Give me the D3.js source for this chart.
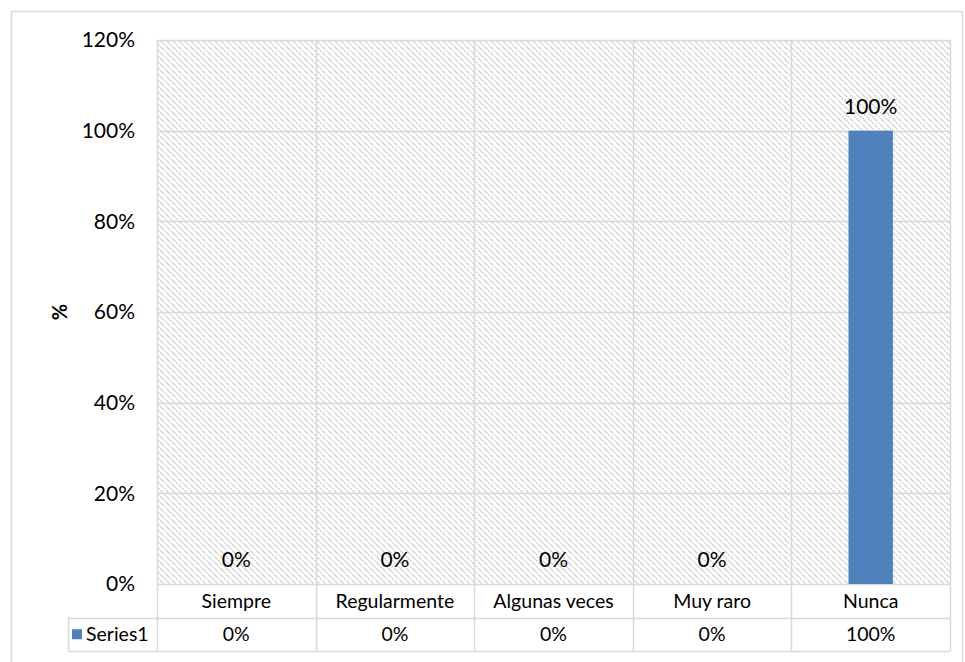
<!DOCTYPE html>
<html>
<head>
<meta charset="utf-8">
<script src="https://cdn.jsdelivr.net/npm/d3@7"></script>
<style>
  body { margin: 0; background: #fff; }
  text { font-family: Lato, "Open Sans", sans-serif; fill: #000; }
</style>
</head>
<body>
<svg id="chart" width="965" height="662"></svg>
<script>
// chart data
const categories = ["Siempre", "Regularmente", "Algunas veces", "Muy raro", "Nunca"];
const values = [0, 0, 0, 0, 1];
const seriesName = "Series1";
const yTicks = [0, 0.2, 0.4, 0.6, 0.8, 1.0, 1.2];

const svg = d3.select("#chart");
const plot = { left: 157, right: 950, top: 40, bottom: 584 };
const rowH = 33.5;
const tableLeft = 68;
const grid = "#d9d9d9";
const fmt = d3.format(".0%");

// outer border
svg.append("rect")
  .attr("x", 11.5).attr("y", 11.5)
  .attr("width", 951).attr("height", 660)
  .attr("fill", "none")
  .attr("stroke", grid)
  .attr("stroke-width", 1.5);

// hatch pattern for plot background
const defs = svg.append("defs");
const pat = defs.append("pattern")
  .attr("id", "hatch")
  .attr("patternUnits", "userSpaceOnUse")
  .attr("width", 6).attr("height", 6);
pat.append("rect").attr("width", 6).attr("height", 6).attr("fill", "#fff");
pat.append("path")
  .attr("d", "M0,0L6,6M-1,5L1,7M5,-1L7,1")
  .attr("stroke", "#d0d0d0")
  .attr("stroke-width", 1.4)
  .attr("stroke-dasharray", "2,1");

const x = d3.scaleBand()
  .domain(categories)
  .range([plot.left, plot.right])
  .padding(0);

const y = d3.scaleLinear()
  .domain([0, 1.2])
  .range([plot.bottom, plot.top]);

svg.append("rect")
  .attr("x", plot.left).attr("y", plot.top)
  .attr("width", plot.right - plot.left)
  .attr("height", plot.bottom - plot.top)
  .attr("fill", "url(#hatch)");

// horizontal gridlines
svg.append("g")
  .selectAll("line")
  .data(yTicks)
  .join("line")
  .attr("x1", plot.left).attr("x2", plot.right)
  .attr("y1", d => Math.round(y(d)) + 0.5)
  .attr("y2", d => Math.round(y(d)) + 0.5)
  .attr("stroke", grid)
  .attr("stroke-width", 1.5);

// vertical lines (category boundaries, running through the data table)
const tableBottom = plot.bottom + rowH * 2;
const bounds = categories.map(c => x(c)).concat([plot.right]);
svg.append("g")
  .selectAll("line")
  .data(bounds)
  .join("line")
  .attr("x1", d => Math.round(d) + 0.5).attr("x2", d => Math.round(d) + 0.5)
  .attr("y1", plot.top).attr("y2", tableBottom)
  .attr("stroke", grid)
  .attr("stroke-width", 1.5);

// table row lines
svg.append("g")
  .selectAll("line")
  .data([plot.bottom + rowH, tableBottom])
  .join("line")
  .attr("x1", tableLeft).attr("x2", plot.right)
  .attr("y1", d => Math.round(d) + 0.5).attr("y2", d => Math.round(d) + 0.5)
  .attr("stroke", grid)
  .attr("stroke-width", 1.5);
svg.append("line")
  .attr("x1", tableLeft + 0.5).attr("x2", tableLeft + 0.5)
  .attr("y1", plot.bottom + rowH).attr("y2", tableBottom)
  .attr("stroke", grid)
  .attr("stroke-width", 1.5);

// y axis labels
svg.append("g")
  .selectAll("text")
  .data(yTicks)
  .join("text")
  .attr("x", 135)
  .attr("y", d => y(d))
  .attr("dy", "0.35em")
  .attr("text-anchor", "end")
  .attr("font-size", 21)
  .text(d => fmt(d));

// y axis title
svg.append("text")
  .attr("transform", `translate(67, ${(plot.top + plot.bottom) / 2}) rotate(-90)`)
  .attr("text-anchor", "middle")
  .attr("font-size", 20)
  .attr("font-weight", "bold")
  .text("%");

// bars
const barW = x.bandwidth() * 0.28;
svg.append("g")
  .selectAll("rect")
  .data(values)
  .join("rect")
  .attr("x", (d, i) => x(categories[i]) + (x.bandwidth() - barW) / 2)
  .attr("y", d => y(d))
  .attr("width", barW)
  .attr("height", d => y(0) - y(d))
  .attr("fill", "#4f81bd");

// data labels
svg.append("g")
  .selectAll("text")
  .data(values)
  .join("text")
  .attr("x", (d, i) => x(categories[i]) + x.bandwidth() / 2)
  .attr("y", d => y(d) - 17)
  .attr("text-anchor", "middle")
  .attr("font-size", 21)
  .text(d => fmt(d));

// data table: categories row
svg.append("g")
  .selectAll("text")
  .data(categories)
  .join("text")
  .attr("x", d => x(d) + x.bandwidth() / 2)
  .attr("y", plot.bottom + rowH / 2)
  .attr("dy", "0.35em")
  .attr("text-anchor", "middle")
  .attr("font-size", 19.5)
  .text(d => d);

// data table: series row
const rowY = plot.bottom + rowH * 1.5;
svg.append("g")
  .selectAll("text")
  .data(values)
  .join("text")
  .attr("x", (d, i) => x(categories[i]) + x.bandwidth() / 2)
  .attr("y", rowY)
  .attr("dy", "0.35em")
  .attr("text-anchor", "middle")
  .attr("font-size", 19.5)
  .text(d => fmt(d));

svg.append("rect")
  .attr("x", 72).attr("y", rowY - 5)
  .attr("width", 10).attr("height", 10)
  .attr("fill", "#4f81bd");
svg.append("text")
  .attr("x", 86)
  .attr("y", rowY)
  .attr("dy", "0.35em")
  .attr("font-size", 19.5)
  .text(seriesName);
</script>
</body>
</html>
